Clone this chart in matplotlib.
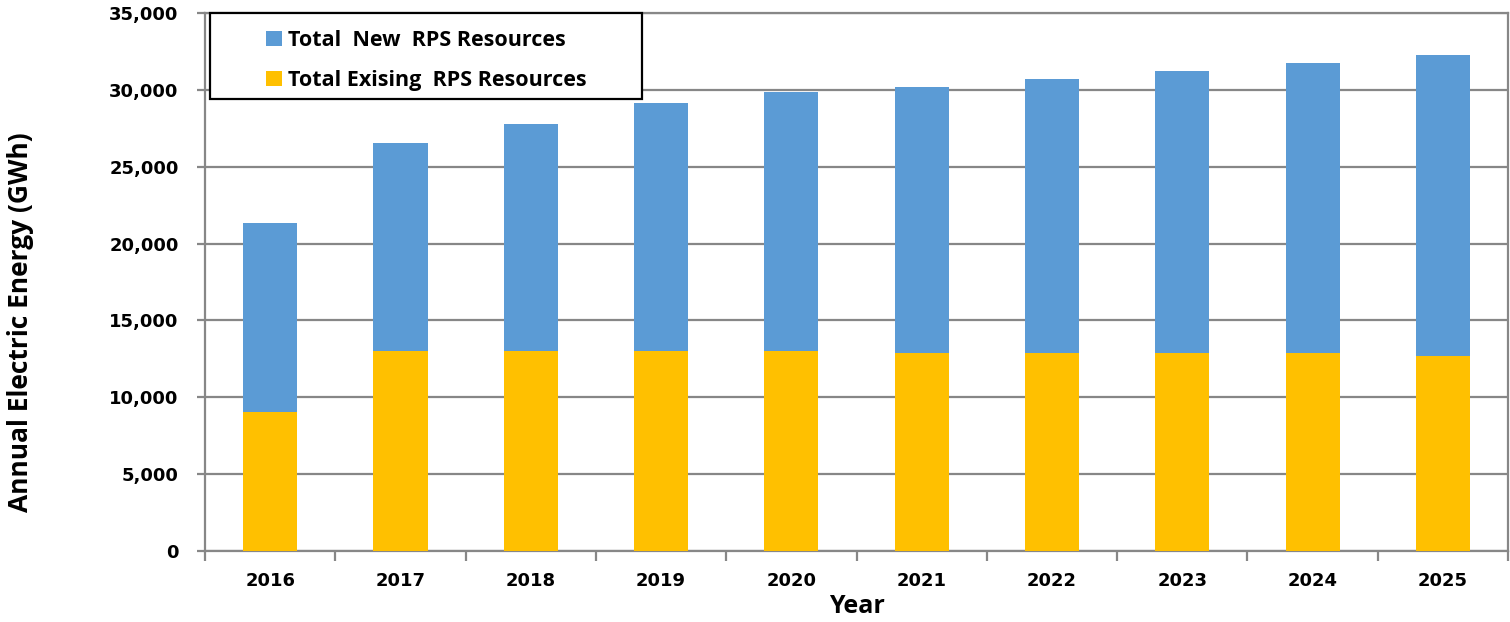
import numpy as np
import matplotlib.pyplot as plt
from matplotlib.patches import Rectangle
from matplotlib.ticker import FuncFormatter, FixedLocator

plt.rcParams['font.family'] = ['Open Sans', 'DejaVu Sans']
plt.rcParams['font.weight'] = 'bold'

#------------------------
# data (GWh)
years = ['2016', '2017', '2018', '2019', '2020', '2021', '2022', '2023', '2024', '2025']
existing = [9040, 13010, 13010, 13010, 13010, 12880, 12880, 12880, 12880, 12690]
total = [21340, 26550, 27780, 29150, 29860, 30190, 30710, 31230, 31750, 32270]
new = [t - e for t, e in zip(total, existing)]

blue = '#5B9BD5'
gold = '#FFC000'
grid_col = '#878787'
tick_font = dict(family='DejaVu Sans', weight='bold', size=13)

fig = plt.figure(figsize=(15.1, 6.22), dpi=100)
ax = fig.add_axes([0.1358, 0.1141, 0.8629, 0.8649])

x = np.arange(len(years))
ax.bar(x, existing, width=0.415, color=gold, label='Total Exising  RPS Resources', zorder=3)
ax.bar(x, new, width=0.415, bottom=existing, color=blue, label='Total  New  RPS Resources', zorder=3)

ax.set_xlim(-0.5, len(years) - 0.5)
ax.set_ylim(0, 35000)
ax.set_yticks(np.arange(0, 35001, 5000))
ax.yaxis.set_major_formatter(FuncFormatter(lambda v, p: f'{int(v):,}'))
ax.grid(axis='y', color=grid_col, linewidth=1.6, zorder=0)

ax.set_xticks(x)
ax.set_xticklabels(years)
ax.xaxis.set_minor_locator(FixedLocator(np.arange(-0.5, len(years), 1)))
ax.tick_params(axis='x', which='major', length=0, pad=15)
ax.tick_params(axis='x', which='minor', length=7, width=1.6, color=grid_col)
ax.tick_params(axis='y', length=6, width=1.6, color=grid_col, pad=13)
for t in ax.get_xticklabels() + ax.get_yticklabels():
    t.set_fontproperties(tick_font)

for s in ax.spines.values():
    s.set_color(grid_col)
    s.set_linewidth(1.6)

ax.set_xlabel('Year', fontsize=18, fontweight='bold')
ax.xaxis.set_label_coords(0.5, -0.08)
ax.set_ylabel('Annual Electric Energy (GWh)', fontsize=19, fontweight='bold')
ax.yaxis.set_label_coords(-0.131, 0.426)

# legend with a plain black box
ax.add_patch(Rectangle((0.004, 0.84), 0.331, 0.16, transform=ax.transAxes,
                       facecolor='white', edgecolor='black', linewidth=1.6,
                       zorder=4, clip_on=False))
h, l = ax.get_legend_handles_labels()
leg = ax.legend(h[::-1], l[::-1], loc='upper left', bbox_to_anchor=(0.04, 0.985),
                frameon=False, fontsize=15.5, handlelength=0.75, handleheight=0.7,
                handletextpad=0.3, labelspacing=0.9, borderaxespad=0)
leg.set_zorder(5)

fig.savefig('out.png', dpi=100)
